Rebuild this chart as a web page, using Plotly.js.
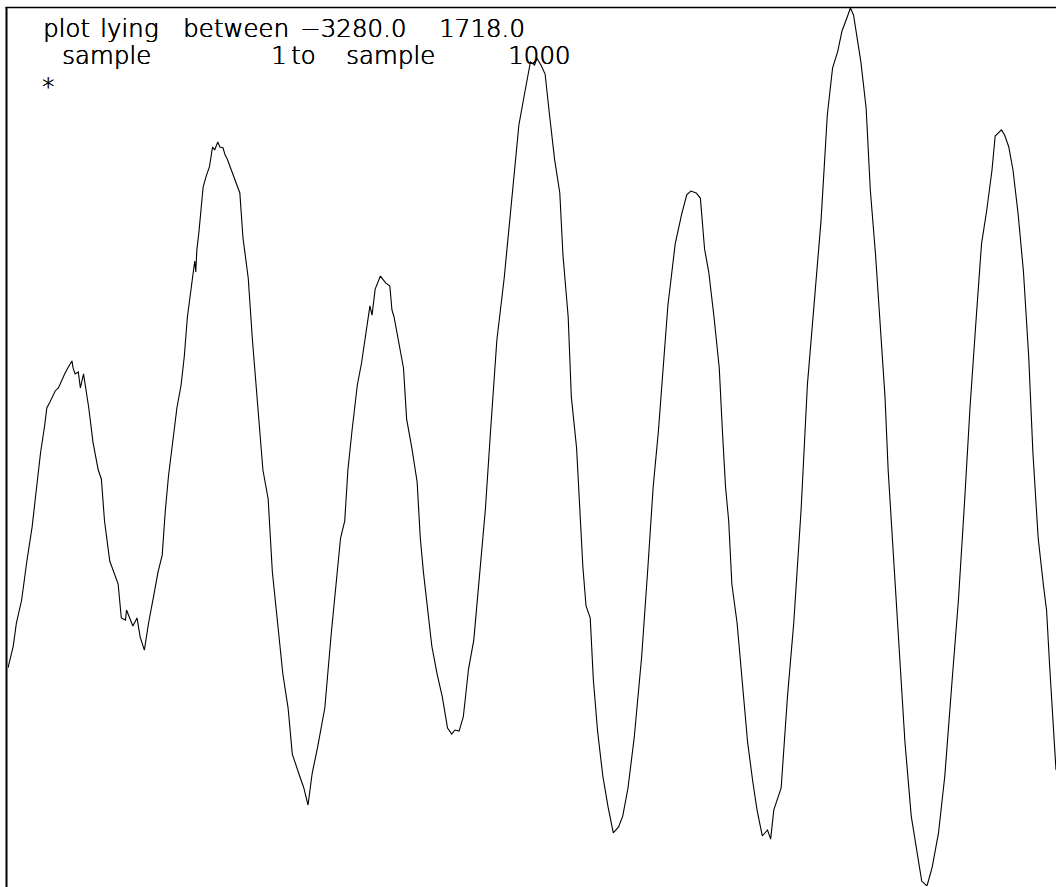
<!DOCTYPE html>
<html>
<head>
<meta charset="utf-8">
<script src="https://cdn.plot.ly/plotly-3.0.1.min.js"></script>
<style>
  html, body { margin: 0; padding: 0; background: #ffffff; }
  #trace { width: 1056px; height: 887px; }
</style>
</head>
<body>
<div id="trace"></div>
<script>
// Plot limits and sample span printed in the header
const rangeLow = -3280.0;
const rangeHigh = 1718.0;
const firstSample = 1;
const lastSample = 1000;

// Sample numbers of the traced points
const sampleIndex = [
  1, 6, 9, 14, 19, 24, 27, 32, 36, 38, 41, 46, 49, 52, 55, 58, 62, 63, 65, 68,
  70, 73, 78, 82, 87, 90, 93, 98, 103, 106, 109, 113, 114, 117, 120, 124, 127, 131, 135, 140,
  144, 148, 151, 154, 159, 162, 166, 169, 172, 175, 179, 180, 181, 183, 187, 190, 193, 196, 198, 201,
  203, 206, 208, 210, 214, 218, 222, 225, 230, 234, 239, 244, 249, 253, 258, 263, 268, 272, 279, 283,
  287, 291, 296, 303, 309, 314, 318, 322, 325, 329, 334, 338, 343, 346, 348, 351, 356, 361, 365, 367,
  369, 373, 378, 381, 386, 391, 394, 397, 400, 405, 410, 415, 420, 424, 427, 431, 435, 440, 445, 451,
  456, 461, 467, 474, 478, 483, 488, 493, 496, 499, 503, 505, 509, 513, 517, 522, 527, 530, 535, 538,
  543, 546, 549, 552, 556, 559, 563, 568, 573, 578, 583, 587, 592, 598, 605, 611, 616, 621, 625, 630,
  637, 643, 648, 652, 657, 661, 665, 669, 674, 679, 682, 685, 688, 691, 696, 701, 706, 711, 715, 720,
  725, 728, 731, 738, 744, 750, 757, 763, 769, 776, 782, 787, 792, 796, 801, 804, 807, 809, 814, 819,
  823, 828, 833, 837, 840, 845, 850, 856, 862, 867, 872, 877, 879, 882, 888, 894, 901, 907, 913, 918,
  924, 929, 934, 939, 942, 948, 951, 955, 959, 964, 969, 974, 978, 983, 988, 991, 994, 997, 998, 1000
];

// Recorded amplitude at each of those samples
const amplitude = [
  -2039, -1914, -1783, -1652, -1430, -1236, -1077, -815, -656, -559, -525, -462, -445, -400, -365, -331, -291, -331, -365, -354,
  -445, -365, -559, -753, -912, -963, -1202, -1430, -1510, -1561, -1754, -1766, -1709, -1754, -1800, -1754, -1863, -1937, -1783, -1624,
  -1493, -1396, -1140, -946, -690, -559, -428, -269, -41, 84, 278, 215, 340, 443, 699, 762, 813, 927, 910, 955,
  927, 921, 881, 858, 796, 733, 665, 409, 181, -172, -559, -912, -1077, -1493, -1783, -2073, -2267, -2529, -2654, -2722,
  -2819, -2637, -2494, -2267, -1851, -1527, -1299, -1202, -912, -684, -428, -303, -109, 22, -30, 118, 192, 153, 135, -1,
  -41, -172, -331, -622, -787, -980, -1299, -1493, -1652, -1914, -2073, -2204, -2381, -2415, -2392, -2398, -2318, -2045, -1880, -1493,
  -1140, -690, -172, 181, 443, 762, 1052, 1217, 1314, 1411, 1393, 1433, 1393, 1342, 1120, 858, 665, 312, -41, -496,
  -787, -1140, -1464, -1686, -1754, -2107, -2398, -2654, -2830, -2978, -2944, -2882, -2722, -2432, -1976, -1464, -1009, -690, -365, 22,
  375, 540, 654, 676, 665, 636, 346, 215, -41, -331, -690, -1009, -1202, -1561, -1783, -2107, -2460, -2688, -2847, -2995,
  -2961, -3013, -2847, -2722, -2204, -1783, -1140, -428, -13, 506, 1109, 1376, 1473, 1587, 1667, 1718, 1678, 1604, 1411, 1149,
  682, 312, -143, -496, -912, -1396, -1851, -2460, -2882, -3075, -3252, -3280, -3234, -3172, -2978, -2654, -2107, -1652, -1077, -559,
  -41, 375, 568, 796, 989, 1024, 995, 927, 796, 540, 215, -269, -815, -1299, -1567, -1709, -2033, -2295, -2392, -2620
];

// Frame geometry in pixels
const W = 1056, H = 887;
const plotLeft = 8, plotTop = 8, plotBottom = 886;
const plotW = W - plotLeft, plotH = plotBottom - plotTop;
const px = x => (x - plotLeft) / plotW;
const py = y => (plotBottom - y) / plotH;

const fmt = v => v.toFixed(1).replace('-', '\u2212');

// Thin single-stroke look: light face, slightly thickened with a tight shadow
const textFont = {
  family: 'DejaVu Sans, sans-serif', size: 24.5, color: '#000000', weight: 200,
  shadow: '0.5px 0 0 #000000, 0 0.4px 0 #000000'
};

// Header tokens placed at their column positions
const headerTokens = [
  { text: 'plot', x: 42, y: 28.5 },
  { text: 'lying', x: 99, y: 28.5 },
  { text: 'between', x: 182, y: 28.5 },
  { text: fmt(rangeLow), x: 299, y: 28.5 },
  { text: fmt(rangeHigh), x: 438, y: 28.5 },
  { text: 'sample', x: 61, y: 55.5 },
  { text: String(firstSample), x: 270, y: 55.5 },
  { text: 'to', x: 290, y: 55.5 },
  { text: 'sample', x: 345, y: 55.5 },
  { text: String(lastSample), x: 507, y: 55.5 },
  { text: '*', x: 41, y: 87 }
];

const annotations = headerTokens.map(t => ({
  text: t.text,
  xref: 'paper', yref: 'paper',
  x: px(t.x), y: py(t.y),
  xanchor: 'left', yanchor: 'middle',
  showarrow: false,
  borderpad: 0,
  font: textFont
}));

const data = [{
  type: 'scatter',
  mode: 'lines',
  x: sampleIndex,
  y: amplitude,
  line: { color: '#000000', width: 1.1 },
  hoverinfo: 'skip',
  cliponaxis: false
}];

const layout = {
  width: W,
  height: H,
  margin: { l: plotLeft, r: 0, t: plotTop, b: H - plotBottom, pad: 0 },
  paper_bgcolor: '#ffffff',
  plot_bgcolor: '#ffffff',
  showlegend: false,
  xaxis: {
    range: [firstSample, lastSample],
    showgrid: false, zeroline: false, showticklabels: false, ticks: '',
    showline: false, fixedrange: true
  },
  yaxis: {
    range: [rangeLow, rangeHigh],
    showgrid: false, zeroline: false, showticklabels: false, ticks: '',
    showline: false, fixedrange: true
  },
  shapes: [
    // left frame edge
    { type: 'line', xref: 'paper', yref: 'paper', x0: px(6.5), x1: px(6.5), y0: py(7), y1: py(H + 2),
      line: { color: '#000000', width: 2 } },
    // top frame edge
    { type: 'line', xref: 'paper', yref: 'paper', x0: px(5.5), x1: px(W + 2), y0: py(7.5), y1: py(7.5),
      line: { color: '#000000', width: 1.5 } }
  ],
  annotations: annotations
};

Plotly.newPlot('trace', data, layout, { staticPlot: true, displayModeBar: false });
</script>
</body>
</html>
